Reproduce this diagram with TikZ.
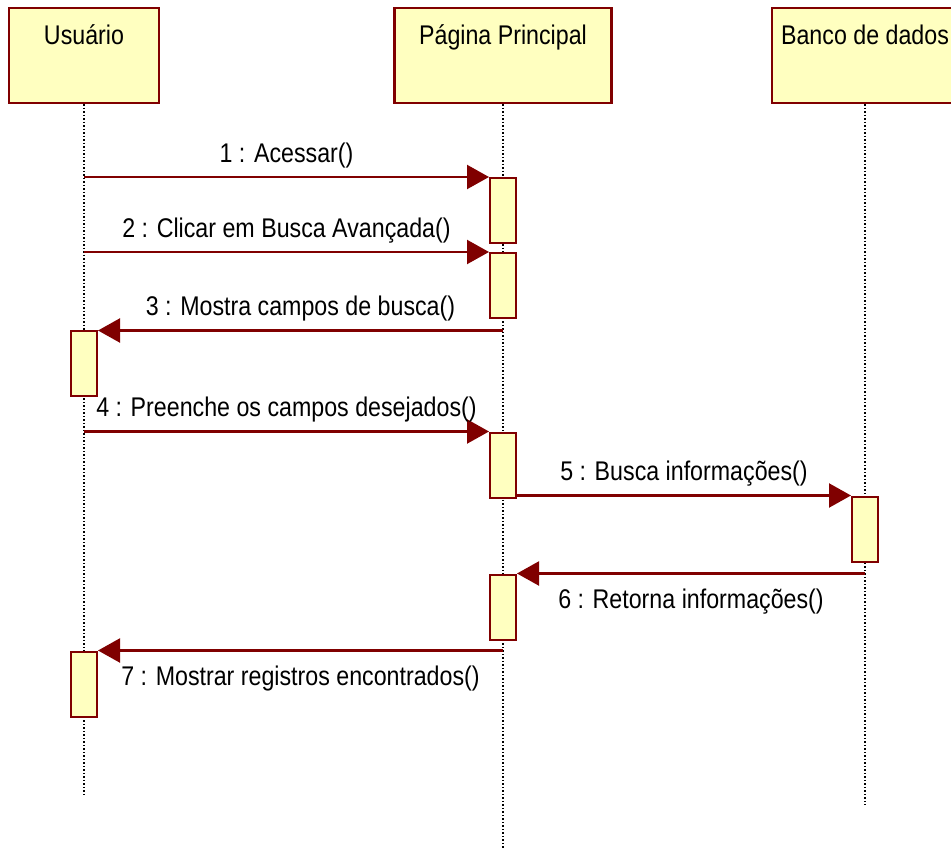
\documentclass[tikz,border=0pt]{standalone}
\usepackage{fontspec}
\setmainfont[FakeStretch=0.86]{Liberation Sans}
\usetikzlibrary{arrows.meta}
\definecolor{umlred}{RGB}{128,0,0}
\definecolor{umlfill}{RGB}{255,255,192}

\begin{document}
\begin{tikzpicture}[
  x=1pt, y=-1pt,
  head/.style={rectangle, draw=umlred, fill=umlfill, line width=2.5pt, minimum width=#1, inner sep=0pt, text height=37pt, text depth=58pt, font=\fontsize{27}{32}\selectfont},
  act/.style={rectangle, draw=umlred, fill=umlfill, line width=2pt, minimum width=26pt, minimum height=65pt, inner sep=0pt},
  life/.style={dash pattern=on 1.5pt off 2pt, line width=1.5pt},
  msg/.style={draw=umlred, line width=2.2pt, -{Triangle[length=22pt,width=24pt]}},
  lbl/.style={inner sep=0pt, font=\fontsize{27}{32}\selectfont}
]
\useasboundingbox (0,0) rectangle (951,850);
\clip (0,0) rectangle (951,850);

% Lifeline heads
\node[head=150pt] (usr) at (84,55.5) {Usuário};
\node[head=217pt] (pag) at (503,55.5) {Página Principal};
\node[head=186pt] (ban) at (865,55.5) {Banco de dados};

\coordinate (usrend) at (84,797);
\coordinate (pagend) at (503,848);
\coordinate (banend) at (865,805);

\draw[life] (usr.south) -- (usrend);
\draw[life] (pag.south) -- (pagend);
\draw[life] (ban.south) -- (banend);

% Activations
\node[act] (a1) at (503,210.5) {};
\node[act] (a2) at (503,285.5) {};
\node[act] (u1) at (84,364) {};
\node[act] (a3) at (503,465) {};
\node[act] (b1) at (865,529) {};
\node[act] (a4) at (503,607) {};
\node[act] (u2) at (84,684) {};

% Messages
\draw[msg] (usr.south |- a1.north west) -- node[lbl, above=8pt] {1 : Acessar()} (a1.north west);
\draw[msg] (usr.south |- a2.north west) -- node[lbl, above=8pt] {2 : Clicar em Busca Avançada()} (a2.north west);
\draw[msg] (pag.south |- u1.north east) -- node[lbl, above=8pt] {3 : Mostra campos de busca()} (u1.north east);
\draw[msg] (usr.south |- a3.north west) -- node[lbl, above=8pt] {4 : Preenche os campos desejados()} (a3.north west);
\draw[msg] (a3.east |- b1.north west) -- node[lbl, above=8pt] {5 : Busca informações()} (b1.north west);
\draw[msg] (ban.south |- a4.north east) -- node[lbl, below=14pt] {6 : Retorna informações()} (a4.north east);
\draw[msg] (pag.south |- u2.north east) -- node[lbl, below=14pt] {7 : Mostrar registros encontrados()} (u2.north east);
\end{tikzpicture}
\end{document}
